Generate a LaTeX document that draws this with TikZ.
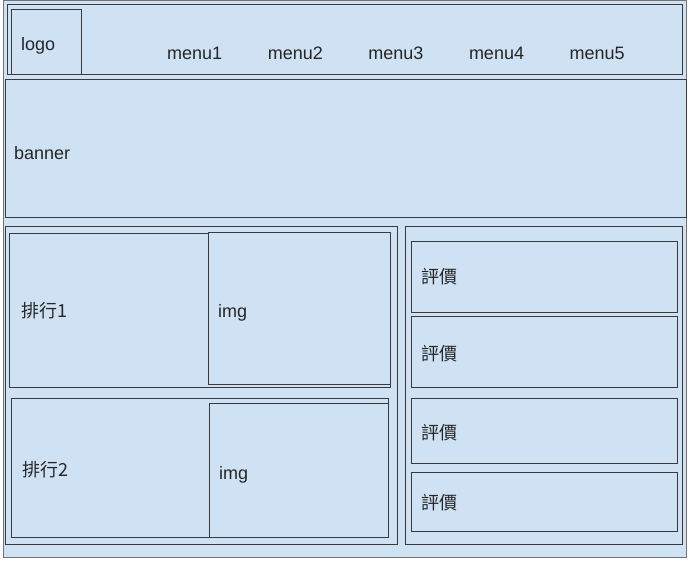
\documentclass[tikz,border=0pt]{standalone}
\usepackage{fontspec}
\setmainfont{Liberation Sans}
\newfontfamily\cjk{Noto Sans CJK TC}
\usepackage{tikz}
\usetikzlibrary{positioning}
\definecolor{wireblue}{HTML}{CFE2F3}
\definecolor{wireline}{HTML}{3A3A3A}

\begin{document}
\begin{tikzpicture}[x=1pt, y=-1pt, font=\fontsize{18}{22}\selectfont,
  box/.style={fill=wireblue, draw=wireline, line width=1pt},
  lbl/.style={anchor=base west, inner sep=0pt, text=black!85}]
  \useasboundingbox (0,0) rectangle (688,561);
  % page frame
  \draw[box, draw=black!55] (3,1) rectangle (686,557);
  % header with logo and menu
  \draw[box] (7,5) rectangle (682,75);
  \draw[box] (11,10) rectangle (81,75);
  \node[lbl] (logo) at (21,51) {logo};
  \foreach \n in {1,...,5}
    \node[lbl] (menu\n) at ({167+100.6*(\n-1)},60) {menu\n};
  % banner
  \draw[box] (5,80) rectangle (686,218);
  \node[lbl] (banner) at (14,160) {banner};
  % ranking column
  \draw[box] (5,227) rectangle (397,544);
  \draw[box] (9,234) rectangle (390,387);
  \draw[box] (208,233) rectangle (390,384);
  \node[lbl] (rank1) at (21,318) {\cjk 排行1};
  \node[lbl] (img1) at (218,318) {img};
  \draw[box] (11,398) rectangle (388,537);
  \draw[box] (209,403) rectangle (388,537);
  \node[lbl] (rank2) at (22,476) {\cjk 排行2};
  \node[lbl] (img2) at (219,479) {img};
  % review column
  \draw[box] (405,227) rectangle (682,544);
  \draw[box] (411,242) rectangle (677,313);
  \draw[box] (411,317) rectangle (677,387);
  \draw[box] (411,398) rectangle (677,463);
  \draw[box] (411,472) rectangle (677,531);
  \node[lbl] (review1) at (421,284) {\cjk 評價};
  \node[lbl] (review2) at (421,360) {\cjk 評價};
  \node[lbl] (review3) at (421,439) {\cjk 評價};
  \node[lbl] (review4) at (421,509) {\cjk 評價};
\end{tikzpicture}
\end{document}
